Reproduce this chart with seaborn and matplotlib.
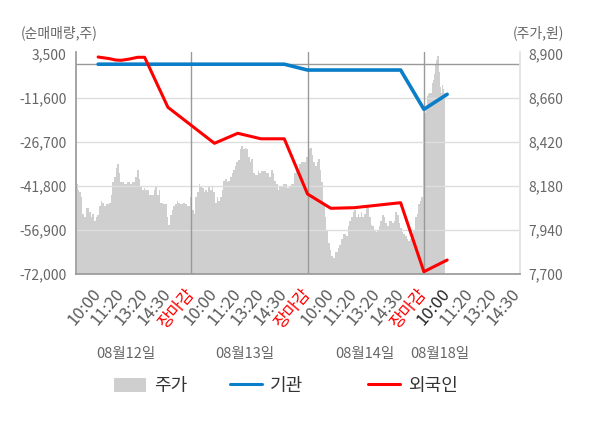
import numpy as np
import pandas as pd
import matplotlib
matplotlib.use("Agg")
import matplotlib.pyplot as plt
import matplotlib.transforms as mtransforms
from matplotlib.patches import Patch
from matplotlib.lines import Line2D
import seaborn as sns

# ---------------- data ----------------
day_labels = ["08월12일", "08월13일", "08월14일", "08월18일"]
time_labels = ["10:00", "11:20", "13:20", "14:30", "장마감",
               "10:00", "11:20", "13:20", "14:30", "장마감",
               "10:00", "11:20", "13:20", "14:30", "장마감",
               "10:00", "11:20", "13:20", "14:30"]

# intraday price (원), read left to right for each day
price_day1 = [8190, 8160, 8150, 8120, 8030, 8010, 8060, 8060, 8040, 8010,
              8030, 7990, 8010, 8020, 8070, 8100, 8090, 8070, 8080, 8080,
              8090, 8130, 8200, 8230, 8280, 8300, 8250, 8200, 8200, 8190,
              8190, 8200, 8200, 8190, 8200, 8200, 8230, 8270, 8220, 8180,
              8160, 8170, 8160, 8160, 8130, 8130, 8130, 8160, 8180, 8130,
              8160, 8090, 8090, 8080, 8080, 8010, 7970, 8020, 8050, 8070,
              8080, 8100, 8090, 8080, 8080, 8090, 8080, 8070, 8070]
price_day2 = [8120, 8050, 8030, 8120, 8150, 8190, 8180, 8170, 8150, 8160,
              8150, 8180, 8160, 8180, 8150, 8090, 8120, 8100, 8120, 8160,
              8210, 8220, 8200, 8210, 8230, 8250, 8270, 8290, 8310, 8320,
              8380, 8400, 8380, 8390, 8380, 8340, 8310, 8330, 8250, 8240,
              8240, 8260, 8250, 8260, 8260, 8260, 8250, 8250, 8230, 8270,
              8250, 8210, 8190, 8160, 8180, 8180, 8190, 8190, 8190, 8170,
              8180, 8190, 8190, 8250, 8260, 8270, 8300, 8310, 8310, 8310]
price_day3 = [8340, 8380, 8390, 8350, 8310, 8290, 8310, 8330, 8270, 8200,
              8090, 8010, 7940, 7870, 7830, 7800, 7790, 7820, 7820, 7840,
              7860, 7890, 7920, 7920, 7910, 7960, 7990, 8010, 8040, 8050,
              8010, 8030, 8010, 8040, 8010, 8030, 8060, 8070, 8010, 7970,
              7960, 7940, 7930, 7940, 7960, 7990, 8020, 8010, 7980, 7960,
              7990, 7990, 7980, 7990, 8040, 8020, 7980, 7950, 7930, 7920,
              7910, 7890, 7880, 7890, 7900, 7940, 8010, 8030, 8080, 8100, 8120]
price_day4 = [8600, 8580, 8610, 8670, 8680, 8690, 8690, 8740, 8760, 8790,
              8840, 8870, 8890, 8800, 8720, 8690, 8730, 8710, 8690]
# covered range of each day on the time-slot axis
price_span = [(0.08, 4.91), (5.0, 9.88), (10.0, 14.93), (15.0, 15.91)]

# net buying (주) snapshots
flow_x = [1.0, 1.5, 1.75, 2.0, 2.35, 2.7, 3.0, 4.0, 6.0, 7.0, 8.0, 9.0,
          10.0, 11.0, 12.0, 14.0, 15.0, 16.0]
institution = [0, 0, 0, 0, 0, 0, 0, 0, 0, 0, 0, 0,
               -2000, -2000, -2000, -2000, -15480, -10330]
foreigner = [2470, 1890, 1440, 1340, 1780, 2370, 2370, -14790, -27150, -23710,
             -25600, -25600, -44550, -49450, -49250, -47530, -71210, -67200]

left_ticks = [3500, -11600, -26700, -41800, -56900, -72000]
right_ticks = [7700, 7940, 8180, 8420, 8660, 8900]

# ---------------- build frames ----------------
days = [price_day1, price_day2, price_day3, price_day4]
px, py = [], []
for vals, (a, b) in zip(days, price_span):
    px.extend(np.linspace(a, b, len(vals)))
    py.extend(vals)
price_df = pd.DataFrame({"slot": px, "price": py})
flow_df = pd.DataFrame({"slot": flow_x, "기관": institution, "외국인": foreigner})

# ---------------- style ----------------
sns.set_theme(style="white")
plt.rcParams["font.family"] = ["Noto Sans CJK KR", "DejaVu Sans"]
plt.rcParams["axes.unicode_minus"] = False

GRAY_TXT = "#666666"
BLUE = "#0a7ec8"
RED = "#ff0000"
AREA = "#cfcfcf"

fig = plt.figure(figsize=(6, 4.28), dpi=100)
ax = fig.add_axes([76 / 600, 1 - 274 / 428, 444 / 600, 222 / 428])
ax2 = ax.twinx()
ax.set_zorder(ax2.get_zorder() + 1)
ax.patch.set_visible(False)
ax2.set_facecolor("#f4f4f4")

# price area (right axis)
ax2.fill_between(price_df["slot"], right_ticks[0], price_df["price"],
                 color=AREA, lw=0, step="mid")
ax2.set_ylim(7700, 8911)
ax2.set_yticks(right_ticks)
ax2.set_yticklabels([f"{v:,}" for v in right_ticks])
ax2.tick_params(axis="y", length=0, pad=6, labelsize=10, labelcolor=GRAY_TXT)
for s in ax2.spines.values():
    s.set_visible(False)

# reference lines
ax.set_ylim(-72000, 4186)
for v in left_ticks[1:-1]:
    ax.axhline(v, color="#dedede", lw=1, zorder=1)
ax.axhline(0, color="#9a9a9a", lw=1, zorder=2)
for d in [5, 10, 15]:
    ax.axvline(d, color="#9a9a9a", lw=1, zorder=2)

# flows
sns.lineplot(data=flow_df, x="slot", y="기관", ax=ax, color=BLUE, lw=2.6,
             legend=False, zorder=4)
sns.lineplot(data=flow_df, x="slot", y="외국인", ax=ax, color=RED, lw=2.2,
             legend=False, zorder=5)

ax.set_xlim(0.05, 19.13)
ax.set_xlabel("")
ax.set_ylabel("")
ax2.set_ylabel("")
ax.set_yticks(left_ticks)
ax.set_yticklabels([f"{v:,}" for v in left_ticks])
ax.tick_params(axis="y", length=0, pad=7, labelsize=10, labelcolor=GRAY_TXT)

ax.set_xticks(range(1, 20))
ax.set_xticklabels(time_labels, rotation=50, ha="right", va="center",
                   rotation_mode="anchor")
ax.tick_params(axis="x", which="major", length=0, pad=12, labelsize=12,
               labelcolor="#5a5a5a")
for i, lab in enumerate(ax.get_xticklabels()):
    if lab.get_text() == "장마감":
        lab.set_color(RED)
    elif i == 15:
        lab.set_color("#222222")
ax.set_xticks([0.05, 5, 10, 15], minor=True)
ax.tick_params(axis="x", which="minor", length=6, width=1, color="#9a9a9a")
ax.grid(False)
ax2.grid(False)

ax.spines["top"].set_visible(False)
ax.spines["left"].set_color("#9a9a9a")
ax.spines["bottom"].set_color("#9a9a9a")
ax.spines["right"].set_color("#e2e2e2")

# date labels
trans = mtransforms.blended_transform_factory(ax.transData, fig.transFigure)
for xv, lab in zip([2.2, 7.3, 12.45, 15.7], day_labels):
    ax.text(xv, 1 - 354 / 428, lab, transform=trans, ha="center", va="center",
            fontsize=10.5, color=GRAY_TXT)

# axis titles
fig.text(59 / 600, 1 - 33 / 428, "(순매매량,주)", ha="center", va="center",
         fontsize=10, color=GRAY_TXT)
fig.text(538 / 600, 1 - 33 / 428, "(주가,원)", ha="center", va="center",
         fontsize=10, color=GRAY_TXT)

# legend
entries = [
    (Patch(facecolor=AREA, edgecolor="none"), "주가", 114),
    (Line2D([], [], color=BLUE, lw=2.2), "기관", 230),
    (Line2D([], [], color=RED, lw=2.2), "외국인", 368),
]
for h, lab, xpix in entries:
    leg = fig.legend([h], [lab], loc="center left",
                     bbox_to_anchor=(xpix / 600, 1 - 386 / 428),
                     frameon=False, fontsize=13, handlelength=1.75,
                     handleheight=0.8, handletextpad=0.45,
                     borderpad=0, borderaxespad=0)
    for t in leg.get_texts():
        t.set_color("#333333")

fig.savefig("out.png", dpi=100)
